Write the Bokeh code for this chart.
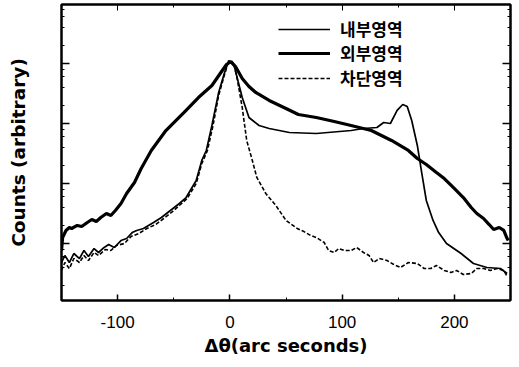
from bokeh.plotting import figure
from bokeh.models import (Range1d, LogAxis, LinearAxis, SingleIntervalTicker, LogTicker,
                          CustomJSTickFormatter, Legend, LegendItem, ColumnDataSource)
from bokeh.embed import file_html
from bokeh.resources import INLINE

# 내부영역 (inner region)
inner_x = [-150, -147, -143, -139, -134, -130, -126, -121, -117, -112,
           -108, -103, -97, -92, -87, -83, -77, -68, -61, -53,
           -45, -39, -30, -25, -21, -16, -10, -5, -1, 4,
           6, 11, 17, 26, 35, 53, 77, 108, 119, 131,
           137, 143, 149, 154, 158, 162, 167, 171, 175, 181,
           186, 193, 206, 217, 229, 241, 247]
inner_y = [4.82, 6.31, 4.82, 6.81, 5.62, 7.64, 6.07, 8.25, 7.08, 8.58,
           9.6, 8.58, 11.2, 12.1, 15.2, 16.5, 17.8, 22.4, 27.1, 35.5,
           46.4, 58.4, 112, 242, 355, 927, 3290, 6810, 11200, 8910,
           6310, 2710, 1260, 927, 825, 708, 681, 764, 825, 858,
           1040, 1000, 1650, 2070, 1920, 1120, 430, 147, 52.1, 24.2,
           15.2, 10.0, 6.81, 4.64, 3.98, 3.83, 3.16]

# 외부영역 (outer region)
outer_x = [-150, -149, -146, -143, -141, -136, -132, -127, -123, -119,
           -115, -110, -106, -102, -97, -92, -85, -79, -70, -57,
           -41, -28, -16, -8, -3, 1, 5, 11, 17, 23,
           35, 50, 61, 77, 93, 108, 126, 144, 159, 167,
           175, 184, 191, 199, 208, 215, 220, 226, 231, 235,
           240, 244, 247, 248]
outer_y = [7.64, 12.6, 16.5, 18.5, 17.8, 20.0, 19.2, 22.4, 25.1, 23.3,
           27.1, 31.6, 29.3, 35.5, 46.4, 68.1, 104, 178, 355, 764,
           1520, 2710, 4300, 7080, 9620, 10800, 8910, 5620, 4140, 3290,
           2420, 1780, 1410, 1260, 1080, 927, 764, 521, 355, 261,
           207, 153, 121, 85.8, 58.4, 39.8, 31.6, 26.1, 20.7, 17.1,
           18.5, 16.5, 12.1, 11.2]

# 차단영역 (blocked region)
blocked_x = [-150, -147, -143, -139, -134, -130, -126, -121, -117, -111,
             -106, -101, -94, -88, -81, -74, -66, -59, -52, -45,
             -38, -30, -25, -20, -15, -10, -5, -1, 4, 6,
             11, 15, 20, 24, 32, 41, 50, 60, 66, 72,
             77, 84, 88, 93, 97, 102, 108, 113, 119, 124,
             128, 133, 140, 146, 152, 159, 167, 173, 179, 184,
             191, 197, 202, 208, 215, 220, 226, 232, 238, 244,
             247]
blocked_y = [3.55, 4.82, 3.83, 5.62, 4.82, 6.31, 5.21, 7.08, 6.31, 7.94,
             7.64, 9.27, 10.0, 13.1, 14.7, 17.8, 20.7, 26.1, 32.9, 43.0,
             56.2, 100, 215, 355, 927, 2930, 6310, 11200, 8910, 6310,
             1850, 521, 242, 126, 68.1, 43.0, 24.2, 17.8, 15.8, 13.6,
             12.6, 10.4, 7.64, 7.08, 8.25, 7.64, 7.64, 8.58, 7.08, 6.31,
             4.82, 5.62, 5.21, 4.47, 3.98, 4.82, 4.64, 3.83, 3.83, 4.30,
             3.55, 3.29, 3.55, 3.04, 3.16, 3.83, 3.83, 3.55, 3.83, 3.55,
             2.82]

labels = ["내부영역", "외부영역", "차단영역"]
x_ticks_interval = 100
x_label = "Δθ(arc seconds)"
y_label = "Counts (arbitrary)"

p = figure(width=519, height=367, output_backend="svg", toolbar_location=None,
           x_range=Range1d(-150, 250), y_range=Range1d(1.122, 96200),
           y_axis_type="log",
           min_border_left=61, min_border_right=9, min_border_top=4, min_border_bottom=67)
p.xgrid.visible = False
p.ygrid.visible = False
p.outline_line_color = "black"
p.outline_line_width = 2
p.background_fill_color = "white"
p.border_fill_color = "white"

empty = CustomJSTickFormatter(code="return ''")
plain = CustomJSTickFormatter(code="return String(tick)")

# bottom axis
xa = p.xaxis[0]
xa.ticker = SingleIntervalTicker(interval=x_ticks_interval, num_minor_ticks=2)
xa.formatter = plain
xa.major_tick_in = 6
xa.major_tick_out = 0
xa.minor_tick_in = 3
xa.minor_tick_out = 0
xa.axis_line_width = 2
xa.major_tick_line_width = 1.5
xa.major_label_text_font = "Liberation Sans"
xa.major_label_text_font_size = "17px"
xa.major_label_text_color = "black"
xa.major_label_standoff = 15
xa.axis_label = x_label
xa.axis_label_text_font = "DejaVu Sans"
xa.axis_label_text_font_style = "bold"
xa.axis_label_text_font_size = "18px"
xa.axis_label_text_color = "black"
xa.axis_label_standoff = 4

# left axis
ya = p.yaxis[0]
ya.ticker = LogTicker()
ya.formatter = empty
ya.major_tick_in = 8
ya.major_tick_out = 0
ya.minor_tick_in = 3
ya.minor_tick_out = 0
ya.axis_line_width = 2
ya.major_tick_line_width = 1.5
ya.axis_label = y_label
ya.axis_label_text_font = "DejaVu Sans"
ya.axis_label_text_font_style = "bold"
ya.axis_label_text_font_size = "18.5px"
ya.axis_label_text_color = "black"
ya.axis_label_standoff = 33

# top axis
ta = LinearAxis(ticker=SingleIntervalTicker(interval=x_ticks_interval, num_minor_ticks=2),
                formatter=empty, major_tick_in=6, major_tick_out=0,
                minor_tick_in=3, minor_tick_out=0, axis_line_color="black",
                axis_line_width=2, major_label_standoff=0)
p.add_layout(ta, "above")

# right axis
ra = LogAxis(ticker=LogTicker(), formatter=empty, major_tick_in=8, major_tick_out=0,
             minor_tick_in=3, minor_tick_out=0, axis_line_color="black",
             axis_line_width=2, major_tick_line_width=1.5, major_label_standoff=0)
p.add_layout(ra, "right")

src_in = ColumnDataSource(dict(x=inner_x, y=inner_y))
src_out = ColumnDataSource(dict(x=outer_x, y=outer_y))
src_bl = ColumnDataSource(dict(x=blocked_x, y=blocked_y))

r_in = p.line("x", "y", source=src_in, line_color="black", line_width=1.7)
r_out = p.line("x", "y", source=src_out, line_color="black", line_width=3.2)
r_bl = p.line("x", "y", source=src_bl, line_color="black", line_width=1.6,
              line_dash="4 2")

legend_y = [259, 235, 210]
for lab, rend, ly in zip(labels, [r_in, r_out, r_bl], legend_y):
    lg = Legend(items=[LegendItem(label=lab, renderers=[rend])],
                location=(217, ly), padding=0, margin=0, spacing=0,
                glyph_width=52, glyph_height=20, label_height=20,
                label_standoff=10, border_line_color=None,
                background_fill_alpha=0,
                label_text_font="Noto Sans CJK KR", label_text_font_style="bold",
                label_text_font_size="17px", label_text_color="black")
    p.add_layout(lg, "center")

open("out.html", "w").write(file_html(p, INLINE))
